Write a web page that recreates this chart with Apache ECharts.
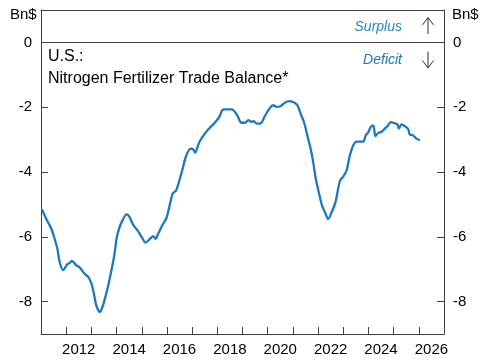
<!DOCTYPE html>
<html>
<head>
<meta charset="utf-8">
<script src="https://cdn.jsdelivr.net/npm/echarts@6/dist/echarts.min.js"></script>
<style>
html,body{margin:0;padding:0;background:#fff;}
#chart{width:485px;height:360px;}
</style>
</head>
<body>
<div id="chart"></div>
<script>
// Decimal years and trade balance (Bn$)
var years = [2011.04,2011.21,2011.41,2011.54,2011.65,2011.74,2011.88,2012.04,2012.15,2012.23,2012.40,2012.54,2012.73,2012.89,2013.00,2013.10,2013.19,2013.29,2013.32,2013.41,2013.54,2013.67,2013.81,2013.91,2014.00,2014.10,2014.23,2014.40,2014.50,2014.66,2014.84,2015.00,2015.15,2015.33,2015.46,2015.55,2015.68,2015.85,2015.99,2016.23,2016.36,2016.49,2016.62,2016.75,2016.94,2017.04,2017.12,2017.28,2017.51,2017.71,2017.90,2018.08,2018.19,2018.30,2018.57,2018.77,2018.96,2019.10,2019.23,2019.36,2019.45,2019.56,2019.72,2019.89,2020.09,2020.22,2020.35,2020.51,2020.68,2020.85,2021.01,2021.15,2021.20,2021.32,2021.45,2021.61,2021.71,2021.81,2021.90,2022.03,2022.16,2022.30,2022.40,2022.54,2022.69,2022.87,2023.00,2023.13,2023.26,2023.39,2023.53,2023.79,2023.89,2023.99,2024.10,2024.19,2024.28,2024.38,2024.52,2024.65,2024.78,2024.89,2025.05,2025.15,2025.21,2025.31,2025.47,2025.58,2025.64,2025.77,2025.91,2026.04];
var balance = [-5.16,-5.45,-5.75,-6.06,-6.37,-6.78,-7.03,-6.85,-6.80,-6.74,-6.88,-6.95,-7.14,-7.25,-7.44,-7.75,-8.11,-8.29,-8.32,-8.23,-7.90,-7.50,-6.98,-6.57,-6.06,-5.75,-5.50,-5.31,-5.37,-5.63,-5.81,-6.01,-6.18,-6.06,-5.98,-6.06,-5.86,-5.60,-5.40,-4.66,-4.58,-4.27,-3.91,-3.53,-3.28,-3.30,-3.40,-3.09,-2.81,-2.63,-2.48,-2.30,-2.10,-2.07,-2.07,-2.22,-2.48,-2.48,-2.40,-2.45,-2.43,-2.51,-2.50,-2.27,-2.02,-1.94,-1.99,-1.97,-1.86,-1.81,-1.84,-1.91,-1.97,-2.22,-2.48,-2.99,-3.30,-3.71,-4.17,-4.63,-5.04,-5.29,-5.45,-5.24,-4.93,-4.27,-4.14,-3.96,-3.50,-3.19,-3.06,-3.06,-2.87,-2.78,-2.60,-2.56,-2.89,-2.80,-2.76,-2.66,-2.56,-2.46,-2.50,-2.53,-2.66,-2.53,-2.60,-2.68,-2.84,-2.87,-2.97,-3.02];
var yearCategories = ['2011','2012','2013','2014','2015','2016','2017','2018','2019','2020','2021','2022','2023','2024','2025','2026'];
var yTicks = [-8,-6,-4,-2,0];
var yLabels = ['-8','-6','-4','-2','0'];

var pts = years.map(function(y,i){ return [y, balance[i]]; });
var axisColor = '#404040';
var labelFont = {fontFamily:'Liberation Sans, Arial, sans-serif', fontSize:15, color:'#000'};

var chart = echarts.init(document.getElementById('chart'));
function yAxisDef(pos){
  return {
    type:'value', position:pos, min:-9, max:1,
    axisLine:{show:true, onZero:false, lineStyle:{color:axisColor, width:1}},
    axisTick:{show:true, inside:true, length:7, customValues:yTicks, lineStyle:{color:axisColor, width:1}},
    axisLabel:Object.assign({show:true, margin:9, customValues:yTicks,
      formatter:function(v){ var i=yTicks.indexOf(v); return i>=0 ? yLabels[i] : ''; }}, labelFont),
    splitLine:{show:false}
  };
}
chart.setOption({
  animation:false,
  grid:{left:41, right:41, top:10, bottom:26},
  xAxis:[
    {type:'category', data:yearCategories, boundaryGap:true, position:'bottom',
     axisLine:{show:true, onZero:false, lineStyle:{color:axisColor}},
     axisTick:{show:true, inside:true, length:7, interval:0, alignWithLabel:false, lineStyle:{color:axisColor, width:1}},
     axisLabel:Object.assign({show:true, margin:8, interval:function(i){ return i%2===1; }}, labelFont),
     splitLine:{show:false}},
    {type:'value', min:2011, max:2027, position:'top',
     axisLine:{show:true, onZero:false, lineStyle:{color:axisColor}},
     axisTick:{show:false}, axisLabel:{show:false}, splitLine:{show:false}}
  ],
  yAxis:[yAxisDef('left'), yAxisDef('right')],
  series:[{
    type:'line', xAxisIndex:1, yAxisIndex:0, data:pts, showSymbol:false, smooth:0.3,
    lineStyle:{color:'#1f78bd', width:2.3}, z:3,
    markLine:{silent:true, symbol:['none','none'], label:{show:false},
      lineStyle:{color:axisColor, width:1, type:'solid'}, data:[{yAxis:0}]}
  }],
  graphic:[
    {type:'text', left:10, top:7, style:{text:'Bn$', font:'15px "Liberation Sans", Arial', fill:'#000'}},
    {type:'text', left:452, top:7, style:{text:'Bn$', font:'15px "Liberation Sans", Arial', fill:'#000'}},
    {type:'text', left:48, top:49, style:{text:'U.S.:', font:'16px "Liberation Sans", Arial', fill:'#000'}},
    {type:'text', left:48, top:71, style:{text:'Nitrogen Fertilizer Trade Balance*', font:'16px "Liberation Sans", Arial', fill:'#000'}},
    {type:'text', x:402, y:27, style:{text:'Surplus', font:'italic 14px "Liberation Sans", Arial', fill:'#2a86c8', align:'right', verticalAlign:'middle'}},
    {type:'text', x:402, y:60, style:{text:'Deficit', font:'italic 14px "Liberation Sans", Arial', fill:'#1f72b8', align:'right', verticalAlign:'middle'}},
    {type:'polyline', shape:{points:[[428,34],[428,17.5]]}, style:{stroke:'#333', lineWidth:1, fill:null}},
    {type:'polyline', shape:{points:[[422.5,25],[428,17.5],[433.5,25]]}, style:{stroke:'#333', lineWidth:1, fill:null}},
    {type:'polyline', shape:{points:[[428,51.5],[428,68]]}, style:{stroke:'#333', lineWidth:1, fill:null}},
    {type:'polyline', shape:{points:[[422.5,60.5],[428,68],[433.5,60.5]]}, style:{stroke:'#333', lineWidth:1, fill:null}}
  ]
});
</script>
</body>
</html>
